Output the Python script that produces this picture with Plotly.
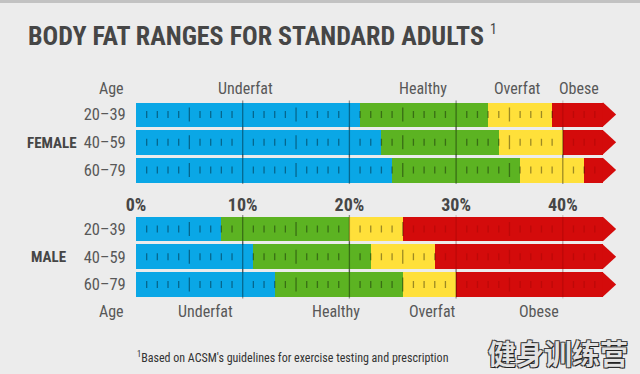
import plotly.graph_objects as go

# ---------------- data ----------------
age_groups = ["20–39", "40–59", "60–79"]
female_underfat_end = [21, 23, 24]
female_healthy_end = [33, 34, 36]
female_overfat_end = [39, 40, 42]
male_underfat_end = [8, 11, 13]
male_healthy_end = [20, 22, 25]
male_overfat_end = [25, 28, 30]
scale_bar_end = 43.75   # end of the rectangular part of each bar (%)
scale_arrow_tip = 45.0  # tip of the arrow (%)
x_tick_values = [0, 10, 20, 30, 40]
x_tick_labels = ["0%", "10%", "20%", "30%", "40%"]
category_names = ["Underfat", "Healthy", "Overfat", "Obese"]

# ---------------- style ----------------
W, H = 640, 374
BG = "#ECECEC"
COLORS = {"Underfat": "#0AA7E6", "Healthy": "#5CB322", "Overfat": "#FFE03A", "Obese": "#D40B0B"}
TEXT_DARK = "#464646"
TEXT_MID = "#585858"
NARROW = "Roboto Condensed, DejaVu Sans Condensed, Liberation Sans Narrow, Roboto, sans-serif"
BAR_W = 0.88
rows = list(range(len(age_groups)))


def px_x(p):
    return p / W


def px_y(p):
    return 1 - p / H


fig = go.Figure()


def add_group(under, healthy, over, xa, ya):
    seg_bases = [[0] * 3, under, healthy, over]
    seg_ends = [under, healthy, over, [scale_bar_end] * 3]
    for name, b, e in zip(category_names, seg_bases, seg_ends):
        fig.add_trace(go.Bar(
            y=rows, x=[ee - bb for bb, ee in zip(b, e)], base=b, orientation="h",
            width=BAR_W, marker=dict(color=COLORS[name], line=dict(width=0)),
            xaxis=xa, yaxis=ya, showlegend=False, hoverinfo="skip"))
    # arrow heads
    for r in rows:
        fig.add_trace(go.Scatter(
            x=[scale_bar_end, scale_arrow_tip, scale_bar_end, scale_bar_end],
            y=[r - BAR_W / 2, r, r + BAR_W / 2, r - BAR_W / 2],
            fill="toself", fillcolor=COLORS["Obese"], mode="lines",
            line=dict(width=0, color=COLORS["Obese"]),
            xaxis=xa, yaxis=ya, showlegend=False, hoverinfo="skip"))
    # scale tick marks inside the bars
    tx, ty, ts, tc = [], [], [], []
    for r in rows:
        for v in range(1, int(scale_bar_end) + 1):
            tx.append(v)
            ty.append(r)
            ts.append(22 if v % 10 == 0 else (10 if v % 5 == 0 else 5))
            tc.append("rgba(90,0,0,0.25)" if v > over[r] else "rgba(0,0,0,0.55)")
    fig.add_trace(go.Scatter(
        x=tx, y=ty, mode="markers",
        marker=dict(symbol="line-ns", size=ts, color=tc, line=dict(width=1.3, color=tc)),
        xaxis=xa, yaxis=ya, showlegend=False, hoverinfo="skip"))


add_group(female_underfat_end, female_healthy_end, female_overfat_end, "x", "y")
add_group(male_underfat_end, male_healthy_end, male_overfat_end, "x2", "y2")

x_dom = [px_x(136), px_x(136 + 45 * 10.67)]
female_dom = [px_y(183.9), px_y(100.6)]
male_dom = [px_y(298.4), px_y(215.1)]

yaxis_common = dict(
    range=[2.5, -0.5], tickvals=rows, ticktext=age_groups, showgrid=False, zeroline=False,
    showline=False, ticks="outside", ticklen=6, tickcolor="rgba(0,0,0,0)", automargin=False,
    tickfont=dict(family=NARROW, size=16.5, color=TEXT_MID), fixedrange=True)

fig.update_layout(
    width=W, height=H, margin=dict(l=0, r=0, t=0, b=0, autoexpand=False),
    paper_bgcolor=BG, plot_bgcolor="rgba(0,0,0,0)", barmode="overlay", bargap=0,
    xaxis=dict(domain=x_dom, range=[0, 45], anchor="y", tickvals=x_tick_values,
               ticktext=x_tick_labels, showgrid=False, zeroline=False, showline=False,
               ticks="outside", ticklen=4, tickcolor="rgba(0,0,0,0)", automargin=False,
               tickfont=dict(family=NARROW, size=18, color=TEXT_DARK, weight="bold")),
    yaxis=dict(domain=female_dom, anchor="x", **yaxis_common),
    xaxis2=dict(domain=x_dom, range=[0, 45], anchor="y2", showticklabels=False,
                showgrid=False, zeroline=False, showline=False, automargin=False),
    yaxis2=dict(domain=male_dom, anchor="x2", **yaxis_common),
)

# top strip
fig.add_shape(type="rect", xref="paper", yref="paper", x0=0, x1=1, y0=px_y(3), y1=1,
              fillcolor="#C2C2C2", line=dict(width=0), layer="below")

ann = []
ann.append(dict(text="BODY FAT RANGES FOR STANDARD ADULTS <sup><span style='font-weight:normal;font-size:14px'>1</span></sup>",
                x=px_x(26), y=px_y(36), xref="paper", yref="paper", xanchor="left", yanchor="middle",
                showarrow=False, font=dict(family=NARROW, size=26, color=TEXT_DARK, weight="bold")))
# group labels
ann.append(dict(text="FEMALE", x=px_x(52), y=px_y(143), xref="paper", yref="paper",
                xanchor="center", yanchor="middle", showarrow=False,
                font=dict(family=NARROW, size=15, color=TEXT_DARK, weight="bold")))
ann.append(dict(text="MALE", x=px_x(48), y=px_y(257), xref="paper", yref="paper",
                xanchor="center", yanchor="middle", showarrow=False,
                font=dict(family=NARROW, size=15, color=TEXT_DARK, weight="bold")))
# header labels (female, top) and footer labels (male, bottom)
label_font = dict(family=NARROW, size=16, color=TEXT_MID)
for ypix in (88, 311):
    ann.append(dict(text="Age", x=px_x(126), y=px_y(ypix), xref="paper", yref="paper",
                    xanchor="right", yanchor="middle", showarrow=False, font=label_font))
top_pos = [10.3, 26.9, 35.8, 41.5]
bottom_pos = [6.5, 18.7, 27.8, 37.8]
for name, xp in zip(category_names, top_pos):
    ann.append(dict(text=name, x=xp, y=px_y(88), xref="x", yref="paper",
                    xanchor="center", yanchor="middle", showarrow=False, font=label_font))
for name, xp in zip(category_names, bottom_pos):
    ann.append(dict(text=name, x=xp, y=px_y(311), xref="x", yref="paper",
                    xanchor="center", yanchor="middle", showarrow=False, font=label_font))
# footnote
ann.append(dict(text="<sup>1</sup>Based on ACSM's guidelines for exercise testing and prescription",
                x=px_x(293), y=px_y(357), xref="paper", yref="paper", xanchor="center",
                yanchor="middle", showarrow=False,
                font=dict(family=NARROW, size=12, color="#333333")))
# watermark
ann.append(dict(text="健身训练营", x=px_x(558), y=px_y(353), xref="paper", yref="paper",
                xanchor="center", yanchor="middle", showarrow=False, borderpad=0,
                font=dict(family="Noto Sans CJK SC", size=28, color="#E2E2E2", weight="bold",
                          shadow="1px 1px 0px #222, -1px -1px 0px #444, 1px -1px 0px #444, -1px 1px 0px #444")))
fig.update_layout(annotations=ann)

fig.write_html("out.html", config={"displayModeBar": False},
               post_script="document.body.style.margin='0';document.body.style.overflow='hidden';")
